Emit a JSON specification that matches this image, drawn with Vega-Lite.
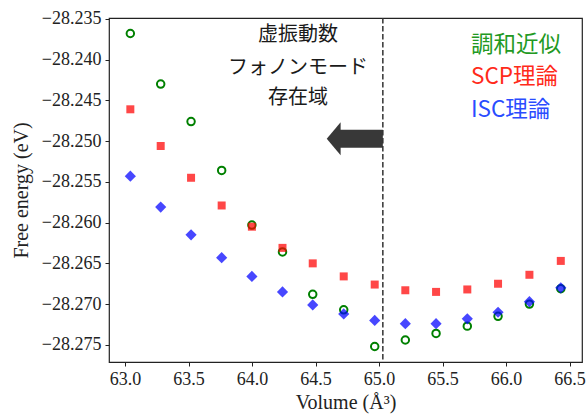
{
  "$schema": "https://vega.github.io/schema/vega-lite/v6.json",
  "width": 473,
  "height": 344,
  "autosize": {"type": "none"},
  "padding": {"left": 109, "top": 18, "right": 5, "bottom": 52},
  "background": "white",
  "data": {"values": [{}]},
  "config": {
    "view": {"stroke": "#222", "strokeWidth": 1.2},
    "axis": {
      "domain": false, "grid": false, "tickColor": "#222", "tickSize": 4, "tickWidth": 1,
      "labelFont": "Liberation Serif", "labelFontSize": 18, "labelColor": "#222", "labelPadding": 4,
      "titleFont": "Liberation Serif", "titleFontSize": 20, "titleFontWeight": "normal", "titleColor": "#222"
    }
  },
  "datasets": {
    "points": [
      {"volume": 63.042, "harmonic": -28.2368, "scp": -28.2461, "isc": -28.2543},
      {"volume": 63.281, "harmonic": -28.2430, "scp": -28.2506, "isc": -28.2581},
      {"volume": 63.520, "harmonic": -28.2476, "scp": -28.2545, "isc": -28.2615},
      {"volume": 63.761, "harmonic": -28.2536, "scp": -28.2579, "isc": -28.2643},
      {"volume": 63.999, "harmonic": -28.2603, "scp": -28.2605, "isc": -28.2666},
      {"volume": 64.240, "harmonic": -28.2636, "scp": -28.2631, "isc": -28.2685},
      {"volume": 64.478, "harmonic": -28.2688, "scp": -28.2650, "isc": -28.2701},
      {"volume": 64.722, "harmonic": -28.2707, "scp": -28.2666, "isc": -28.2712},
      {"volume": 64.966, "harmonic": -28.2752, "scp": -28.2676, "isc": -28.2720},
      {"volume": 65.207, "harmonic": -28.2744, "scp": -28.2683, "isc": -28.2724},
      {"volume": 65.449, "harmonic": -28.2736, "scp": -28.2685, "isc": -28.2724},
      {"volume": 65.695, "harmonic": -28.2727, "scp": -28.2682, "isc": -28.2718},
      {"volume": 65.937, "harmonic": -28.2715, "scp": -28.2675, "isc": -28.2710},
      {"volume": 66.184, "harmonic": -28.2700, "scp": -28.2664, "isc": -28.2697},
      {"volume": 66.431, "harmonic": -28.2681, "scp": -28.2647, "isc": -28.2680}
    ],
    "notes": [
      {"label": "虚振動数", "vx": 64.362, "vy": -28.2370},
      {"label": "フォノンモード", "vx": 64.362, "vy": -28.2410},
      {"label": "存在域", "vx": 64.362, "vy": -28.2447}
    ],
    "keys": [
      {"label": "調和近似", "vx": 65.724, "vy": -28.2382},
      {"label": "SCP理論", "vx": 65.724, "vy": -28.2421},
      {"label": "ISC理論", "vx": 65.724, "vy": -28.2462}
    ]
  },
  "layer": [
    {
      "mark": {"type": "rule", "color": "#383838", "strokeWidth": 18, "strokeCap": "butt"},
      "encoding": {
        "x": {"datum": 64.69, "type": "quantitative", "scale": {"domain": [62.874, 66.598], "nice": false, "zero": false},
              "title": "Volume (Å³)", "axis": {"values": [63.0, 63.5, 64.0, 64.5, 65.0, 65.5, 66.0, 66.5], "format": ".1f", "titlePadding": 4}},
        "x2": {"datum": 65.03},
        "y": {"datum": -28.2497, "type": "quantitative", "scale": {"domain": [-28.2771, -28.2349], "nice": false, "zero": false},
              "title": "Free energy (eV)", "axis": {"values": [-28.275, -28.27, -28.265, -28.26, -28.255, -28.25, -28.245, -28.24, -28.235], "format": ".3f", "titlePadding": 10}}
      }
    },
    {
      "mark": {"type": "point", "shape": "M-0.42,0L0.42,-1L0.42,1Z", "filled": true, "color": "#383838", "opacity": 1, "size": 1089, "strokeWidth": 0},
      "encoding": {
        "x": {"datum": 64.643, "type": "quantitative", "scale": {"domain": [62.874, 66.598], "nice": false, "zero": false}, "title": "Volume (Å³)"},
        "y": {"datum": -28.2497, "type": "quantitative", "scale": {"domain": [-28.2771, -28.2349], "nice": false, "zero": false}, "title": "Free energy (eV)"}
      }
    },
    {
      "mark": {"type": "rule", "color": "#333", "strokeWidth": 1.5, "strokeDash": [5.5, 2.5]},
      "encoding": {
        "x": {"datum": 65.03, "type": "quantitative", "scale": {"domain": [62.874, 66.598], "nice": false, "zero": false}, "title": "Volume (Å³)"}
      }
    },
    {
      "data": {"name": "points"},
      "mark": {"type": "point", "shape": "circle", "filled": false, "color": "#008000", "strokeWidth": 2, "size": 56, "opacity": 1},
      "encoding": {
        "x": {"field": "volume", "type": "quantitative", "scale": {"domain": [62.874, 66.598], "nice": false, "zero": false}, "title": "Volume (Å³)"},
        "y": {"field": "harmonic", "type": "quantitative", "scale": {"domain": [-28.2771, -28.2349], "nice": false, "zero": false}, "title": "Free energy (eV)"}
      }
    },
    {
      "data": {"name": "points"},
      "mark": {"type": "point", "shape": "square", "filled": true, "color": "#ff0000", "size": 64, "opacity": 0.72},
      "encoding": {
        "x": {"field": "volume", "type": "quantitative", "scale": {"domain": [62.874, 66.598], "nice": false, "zero": false}, "title": "Volume (Å³)"},
        "y": {"field": "scp", "type": "quantitative", "scale": {"domain": [-28.2771, -28.2349], "nice": false, "zero": false}, "title": "Free energy (eV)"}
      }
    },
    {
      "data": {"name": "points"},
      "mark": {"type": "point", "shape": "diamond", "filled": true, "color": "#0000ff", "size": 125, "opacity": 0.72},
      "encoding": {
        "x": {"field": "volume", "type": "quantitative", "scale": {"domain": [62.874, 66.598], "nice": false, "zero": false}, "title": "Volume (Å³)"},
        "y": {"field": "isc", "type": "quantitative", "scale": {"domain": [-28.2771, -28.2349], "nice": false, "zero": false}, "title": "Free energy (eV)"}
      }
    },
    {
      "data": {"name": "notes"},
      "mark": {"type": "text", "font": "Noto Sans CJK JP", "fontSize": 20, "align": "center", "baseline": "middle", "color": "#1a1a1a"},
      "encoding": {
        "x": {"field": "vx", "type": "quantitative", "scale": {"domain": [62.874, 66.598], "nice": false, "zero": false}, "title": "Volume (Å³)"},
        "y": {"field": "vy", "type": "quantitative", "scale": {"domain": [-28.2771, -28.2349], "nice": false, "zero": false}, "title": "Free energy (eV)"},
        "text": {"field": "label"}
      }
    },
    {
      "data": {"name": "keys"},
      "mark": {"type": "text", "font": "Noto Sans CJK JP", "fontSize": 22.5, "align": "left", "baseline": "middle"},
      "encoding": {
        "x": {"field": "vx", "type": "quantitative", "scale": {"domain": [62.874, 66.598], "nice": false, "zero": false}, "title": "Volume (Å³)"},
        "y": {"field": "vy", "type": "quantitative", "scale": {"domain": [-28.2771, -28.2349], "nice": false, "zero": false}, "title": "Free energy (eV)"},
        "text": {"field": "label"},
        "color": {"field": "label", "type": "nominal", "scale": {"domain": ["調和近似", "SCP理論", "ISC理論"], "range": ["#229922", "#ff2a1a", "#2a4cff"]}, "legend": null}
      }
    }
  ]
}
